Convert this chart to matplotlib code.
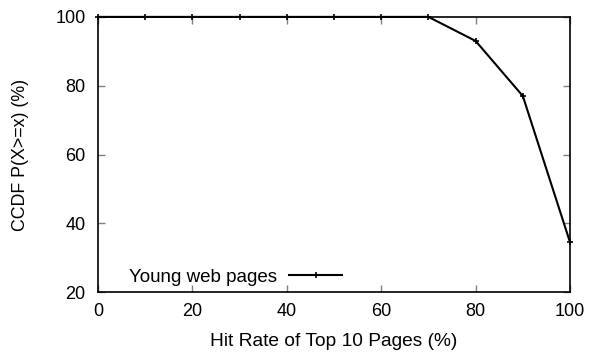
import numpy as np
import matplotlib
matplotlib.use("Agg")
import matplotlib.pyplot as plt

hit_rate = [0, 10, 20, 30, 40, 50, 60, 70, 80, 90, 100]
ccdf = [100, 100, 100, 100, 100, 100, 100, 100, 93, 77, 34.5]

plt.rcParams["font.family"] = ["Liberation Sans", "DejaVu Sans"]
fig = plt.figure(figsize=(5.91, 3.52), dpi=100)
ax = fig.add_axes([0.166, 0.170, 0.7985, 0.782])
ax.plot(hit_rate, ccdf, color="black", lw=1.5, marker="+", ms=5, mew=1.2,
        label="Young web pages", clip_on=False)

ax.set_xlim(0, 100)
ax.set_ylim(20, 100)
ax.set_xticks(np.arange(0, 101, 20))
ax.set_yticks(np.arange(20, 101, 20))
ax.tick_params(direction="in", top=True, right=True, length=5, width=1,
               color="gray", labelsize=13)
ax.tick_params(axis="x", pad=8)
ax.tick_params(axis="y", pad=9)
for s in ax.spines.values():
    s.set_linewidth(1.2)
ax.set_xlabel("Hit Rate of Top 10 Pages (%)", fontsize=13.8, labelpad=9)
ax.set_ylabel("CCDF P(X>=x) (%)", fontsize=12.8, labelpad=19)
ax.legend(loc="lower left", frameon=False, markerfirst=False, fontsize=13.5,
          handlelength=2.8, handletextpad=0.65, borderaxespad=0.0,
          bbox_to_anchor=(0.05, -0.005))
fig.savefig("out.png", dpi=100)
